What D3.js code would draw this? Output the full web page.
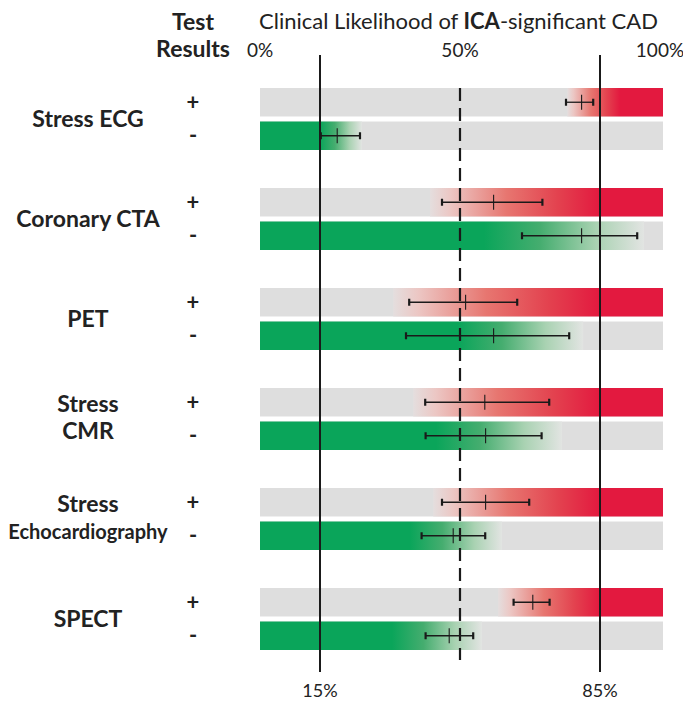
<!DOCTYPE html>
<html><head><meta charset="utf-8">
<script src="https://cdn.jsdelivr.net/npm/d3@7"></script>
<style>
html,body{margin:0;padding:0;background:#fff;}
svg{display:block;font-family:Lato,"Open Sans",sans-serif;}
</style></head>
<body><svg id="chart" width="683" height="715"></svg>
<script>
// ---- data ----
const tests = ["Stress ECG", "Coronary CTA", "PET", "Stress CMR", "Stress Echocardiography", "SPECT"];
const testLabelLines = [["Stress ECG"], ["Coronary CTA"], ["PET"], ["Stress", "CMR"], ["Stress", "Echocardiography"], ["SPECT"]];
const results = ["+", "-"];
// positive result: [lower CI, estimate, upper CI] in %
const posLow  = [76.5, 45.5, 37.3, 41.3, 45.5, 63.4];
const posMid  = [80.4, 58.4, 51.4, 56.2, 56.4, 68.2];
const posHigh = [83.3, 70.6, 64.3, 72.3, 67.3, 72.4];
// negative result
const negLow  = [15.2, 65.5, 36.5, 41.4, 40.4, 41.4];
const negMid  = [19.3, 80.4, 58.4, 56.4, 48.3, 47.3];
const negHigh = [25.0, 94.3, 77.3, 70.4, 56.3, 53.3];
// colour ramps (start of fade, end of fade) in %
const redFadeStart   = [76.8, 42.5, 33.3, 38.3, 43.3, 59.5];
const redFadeEnd     = [90.0, 85.0, 85.0, 85.0, 85.0, 85.0];
const greenFadeStart = [15.0, 56.0, 49.5, 44.0, 37.5, 33.0];
const greenFadeEnd   = [25.5, 96.0, 80.8, 75.5, 60.5, 55.5];
const barExtent = [0, 100.75];
const topTicks = [0, 50, 100];
const bottomTicks = [15, 85];
const thresholdSolid = [15, 85];
const thresholdDashed = 50;

// ---- layout ----
const svg = d3.select("#chart");
const x = d3.scaleLinear().domain([0, 100]).range([260, 660]);
const yGroup = d3.scaleBand().domain(tests).range([88, 650]).paddingInner(0.38);
const yRes = d3.scaleBand().domain(results).range([0, yGroup.bandwidth()]).paddingInner(0.15);
const pct = d => d + "%";

const GRAY = "#dedede", RED = "#e3193f", GREEN = "#0aa55a";
const defs = svg.append("defs");

const rows = tests.map((t, i) => ({
  test: t, i,
  pos: { low: posLow[i], mid: posMid[i], high: posHigh[i], f0: redFadeStart[i], f1: redFadeEnd[i] },
  neg: { low: negLow[i], mid: negMid[i], high: negHigh[i], f0: greenFadeStart[i], f1: greenFadeEnd[i] }
}));

// gradients
rows.forEach(r => {
  const gR = defs.append("linearGradient").attr("id", "red" + r.i)
    .attr("gradientUnits", "userSpaceOnUse")
    .attr("x1", x(r.pos.f0)).attr("x2", x(r.pos.f1)).attr("y1", 0).attr("y2", 0);
  [[0, "#e4dede"], [0.12, "#ecc7c4"], [0.45, "#e77670"], [0.75, "#e3424f"], [1, RED]]
    .forEach(([o, c]) => gR.append("stop").attr("offset", o).attr("stop-color", c));
  const gG = defs.append("linearGradient").attr("id", "green" + r.i)
    .attr("gradientUnits", "userSpaceOnUse")
    .attr("x1", x(r.neg.f0)).attr("x2", x(r.neg.f1)).attr("y1", 0).attr("y2", 0);
  [[0, GREEN], [0.35, "#45ad6f"], [0.7, "#a9d2b2"], [1, "#e2e4e2"]]
    .forEach(([o, c]) => gG.append("stop").attr("offset", o).attr("stop-color", c));
});

const g = svg.append("g").selectAll("g.grp").data(rows).join("g")
  .attr("class", "grp").attr("transform", d => `translate(0,${yGroup(d.test)})`);

// gray backgrounds
results.forEach(res => {
  g.append("rect").attr("x", x(barExtent[0])).attr("width", x(barExtent[1]) - x(barExtent[0]))
    .attr("y", yRes(res)).attr("height", yRes.bandwidth()).attr("fill", GRAY);
});
// red ramp (+)
g.append("rect").attr("x", d => x(d.pos.f0)).attr("width", d => x(barExtent[1]) - x(d.pos.f0))
  .attr("y", yRes("+")).attr("height", yRes.bandwidth()).attr("fill", d => `url(#red${d.i})`);
// green ramp (-)
g.append("rect").attr("x", x(barExtent[0])).attr("width", d => x(d.neg.f1) - x(barExtent[0]))
  .attr("y", yRes("-")).attr("height", yRes.bandwidth()).attr("fill", d => `url(#green${d.i})`);

// threshold lines
const lineTop = 55, lineBottom = 672;
svg.append("g").selectAll("line").data(thresholdSolid).join("line")
  .attr("x1", x).attr("x2", x).attr("y1", lineTop).attr("y2", lineBottom)
  .attr("stroke", "#1a1a1a").attr("stroke-width", 2);
svg.append("line").attr("x1", x(thresholdDashed)).attr("x2", x(thresholdDashed))
  .attr("y1", 88).attr("y2", 660)
  .attr("stroke", "#1a1a1a").attr("stroke-width", 2.2).attr("stroke-dasharray", "13,7");

// error bars
function errBar(sel, key, res) {
  const cy = yRes(res) + yRes.bandwidth() / 2;
  const eg = sel.append("g").attr("stroke", "#1a1a1a");
  eg.append("line").attr("x1", d => x(d[key].low)).attr("x2", d => x(d[key].high))
    .attr("y1", cy).attr("y2", cy).attr("stroke-width", 1.3);
  eg.append("line").attr("x1", d => x(d[key].low)).attr("x2", d => x(d[key].low))
    .attr("y1", cy - 3.5).attr("y2", cy + 3.5).attr("stroke-width", 2.2);
  eg.append("line").attr("x1", d => x(d[key].high)).attr("x2", d => x(d[key].high))
    .attr("y1", cy - 3.5).attr("y2", cy + 3.5).attr("stroke-width", 2.2);
  eg.append("line").attr("x1", d => x(d[key].mid)).attr("x2", d => x(d[key].mid))
    .attr("y1", cy - 7.5).attr("y2", cy + 7.5).attr("stroke-width", 1.1);
}
errBar(g, "pos", "+");
errBar(g, "neg", "-");

// +/- labels
results.forEach(res => {
  g.append("text").attr("x", 193).attr("y", yRes(res) + yRes.bandwidth() / 2)
    .attr("dy", "0.35em").attr("text-anchor", "middle")
    .attr("font-size", 22).attr("font-weight", "bold").attr("fill", "#222").text(res);
});

// test labels
g.each(function(d) {
  const lines = testLabelLines[d.i];
  const c = yGroup.bandwidth() / 2;
  const t = d3.select(this).append("text").attr("text-anchor", "middle")
    .attr("font-weight", "bold").attr("fill", "#222");
  lines.forEach((ln, k) => {
    const base = lines.length === 1 ? c + 8 : c - 7 + k * 27;
    t.append("tspan").attr("x", 88).attr("y", base)
      .attr("font-size", ln.length > 12 ? 20 : 23).text(ln);
  });
});

// headers
const hdr = svg.append("g").attr("fill", "#222");
hdr.append("text").attr("x", 193).attr("y", 30).attr("text-anchor", "middle")
  .attr("font-size", 23).attr("font-weight", "bold").text("Test");
hdr.append("text").attr("x", 193).attr("y", 57).attr("text-anchor", "middle")
  .attr("font-size", 23).attr("font-weight", "bold").text("Results");
const title = hdr.append("text").attr("x", 259).attr("y", 29).attr("font-size", 22);
title.append("tspan").text("Clinical Likelihood of ");
title.append("tspan").attr("font-weight", "bold").text("ICA");
title.append("tspan").text("-significant CAD");

// top axis labels
svg.append("g").selectAll("text").data(topTicks).join("text")
  .attr("x", x).attr("y", 57).attr("text-anchor", "middle")
  .attr("font-size", 19).attr("fill", "#222").text(pct);
// bottom labels
svg.append("g").selectAll("text").data(bottomTicks).join("text")
  .attr("x", x).attr("y", 697).attr("text-anchor", "middle")
  .attr("font-size", 18).attr("fill", "#222").text(pct);
</script></body></html>
